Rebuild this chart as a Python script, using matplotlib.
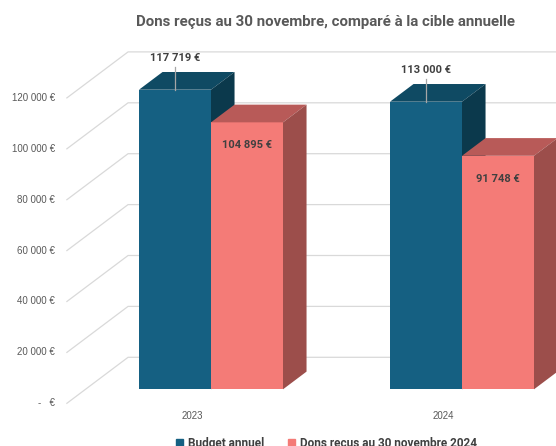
import matplotlib.pyplot as plt
from matplotlib.patches import Polygon, Patch

# data
years = ['2023', '2024']
budget = [117719, 113000]
dons = [104895, 91748]
series_names = ['Budget annuel', 'Dons reçus au 30 novembre 2024']
yticks = [0, 20000, 40000, 60000, 80000, 100000, 120000]

blue = ('#156082', '#0F4A63', '#0B394C')   # front, top, side
red = ('#F47B77', '#B85A58', '#9C4E4B')

def euro(v):
    if v == 0:
        return '-   €'
    return f'{v:,.0f}'.replace(',', ' ') + ' €'

fig = plt.figure(figsize=(5.56, 4.46), dpi=100)
ax = fig.add_axes([0, 0, 1, 1])
ax.axis('off')

# pixel scale of the fake 3d view
px_x = 251.0                # px per category
px_y = 50.9 / 20000         # px per euro
ax.set_xlim(-211 / px_x, (556 - 211) / px_x)
ax.set_ylim(-56.7 / px_y, (446 - 56.7) / px_y)

def shift(d):
    # depth offset d (px) -> data offsets
    return 1.33 * d / px_x, d / px_y

narrow = ['Roboto', 'DejaVu Sans']
plain = ['Liberation Sans', 'DejaVu Sans']
grey = '#595959'

# back wall gridlines
fx, fy = shift(-14)
bx, by = shift(32)
wall_left = -0.5
for v in yticks:
    ax.plot([wall_left + fx, wall_left + bx, 2.0], [v + fy, v + by, v + by],
            color='#D9D9D9', lw=0.9, zorder=1)
    ax.text(wall_left + fx - 12 / px_x, v + fy, euro(v), ha='right', va='center',
            fontsize=7, color=grey, family=plain)

# bars
w = 72 / px_x
tx, ty = shift(17.7)
for i, yr in enumerate(years):
    for j, (vals, cols) in enumerate([(budget, blue), (dons, red)]):
        v = vals[i]
        x0 = i - w + j * w
        z = 2 + j
        ax.bar(x0, v, w, align='edge', color=cols[0], zorder=z, lw=0)
        ax.add_patch(Polygon([(x0, v), (x0 + w, v), (x0 + w + tx, v + ty), (x0 + tx, v + ty)],
                             closed=True, color=cols[1], lw=0, zorder=z))
        ax.add_patch(Polygon([(x0 + w, 0), (x0 + w, v), (x0 + w + tx, v + ty), (x0 + w + tx, ty)],
                             closed=True, color=cols[2], lw=0, zorder=z))
        cx = x0 + w / 2
        if j == 0:
            ly = v + 32 / px_y
            ax.plot([cx, cx], [v, ly - 9 / px_y], color='#A6A6A6', lw=0.9, zorder=z + 0.5)
            ax.text(cx, ly, euro(v), ha='center', va='center', fontsize=8,
                    fontweight='bold', color='#404040', family=narrow, zorder=6)
        else:
            ax.text(cx, v - 23 / px_y, euro(v), ha='center', va='center', fontsize=8,
                    fontweight='bold', color='#404040', family=narrow, zorder=6)
    ax.text(i + fx, fy - 13 / px_y, yr, ha='center', va='center', fontsize=7,
            color=grey, family=plain)

fig.text(0.585, 1 - 22 / 446, 'Dons reçus au 30 novembre, comparé à la cible annuelle',
         ha='center', va='center', fontsize=10.8, fontweight='bold', color=grey, family=narrow)

handles = [Patch(color=blue[0]), Patch(color=red[0])]
fig.legend(handles, series_names, loc='center', bbox_to_anchor=(326.5 / 556, 3 / 446),
           ncol=2, frameon=False, handlelength=0.6, handleheight=0.6, handletextpad=0.4,
           columnspacing=2.0, prop={'family': narrow, 'weight': 'bold', 'size': 8.5},
           labelcolor='#404040')

plt.savefig('out.png')
